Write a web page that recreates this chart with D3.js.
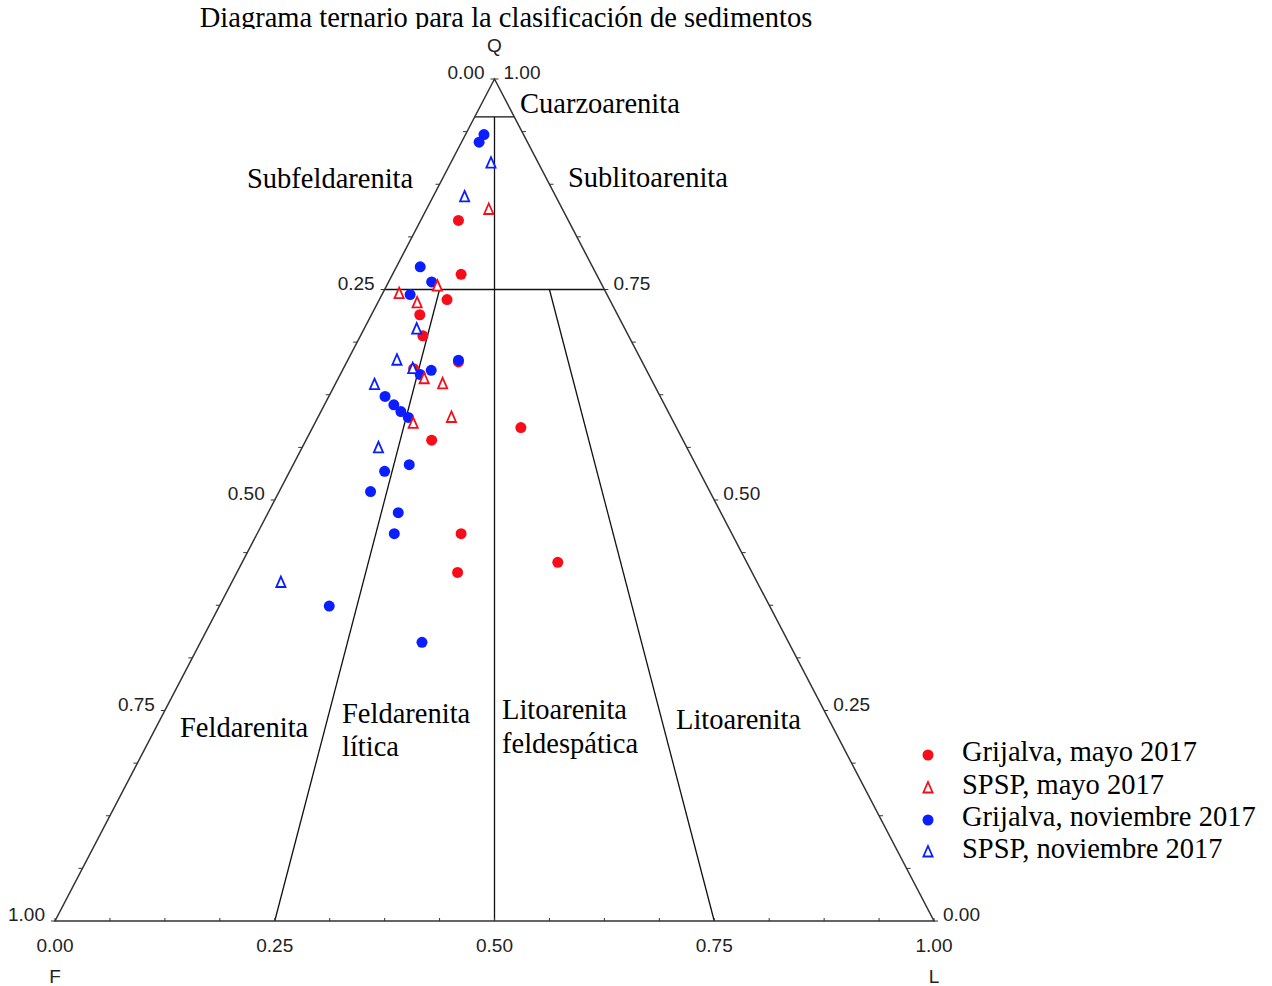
<!DOCTYPE html>
<html lang='es'>
    <head>
        <meta charset="utf-8">
        <script src="https://d3js.org/d3.v7.min.js"></script>
    </head>
    <style>
        body{
            margin:0px;
            padding:0px;
            background-color:white;
        }
        svg{
            display:block;
        }
        .serif{
            font-family:"Liberation Serif","Times New Roman",serif;
            font-size:28.5px;
            fill:black;
        }
        .sans{
            font-family:"Liberation Sans",Arial,sans-serif;
            font-size:19px;
            fill:#222;
        }
    </style>
    <body>
        <svg id="chart" width="1272" height="986"></svg>
        <script>
            // points as [Q, F, L]
            const grijalvaMayo=[
                [0.832,0.125,0.043],[0.768,0.154,0.078],[0.738,0.185,0.077],[0.720,0.225,0.055],
                [0.695,0.234,0.071],[0.664,0.209,0.127],[0.656,0.264,0.080],[0.586,0.177,0.237],
                [0.571,0.286,0.143],[0.460,0.308,0.232],[0.414,0.335,0.251],[0.426,0.215,0.359]
            ];
            const spspMayo=[
                [0.845,0.084,0.071],[0.754,0.188,0.058],[0.745,0.236,0.019],[0.734,0.221,0.045],
                [0.644,0.258,0.098],[0.638,0.240,0.122],[0.598,0.250,0.152],[0.591,0.297,0.112]
            ];
            const grijalvaNov=[
                [0.934,0.045,0.021],[0.925,0.055,0.020],[0.777,0.196,0.027],[0.759,0.192,0.049],
                [0.744,0.224,0.032],[0.666,0.208,0.126],[0.654,0.245,0.101],[0.649,0.260,0.091],
                [0.623,0.313,0.064],[0.613,0.308,0.079],[0.605,0.304,0.091],[0.598,0.299,0.103],
                [0.542,0.326,0.132],[0.534,0.358,0.108],[0.510,0.386,0.104],[0.485,0.367,0.148],
                [0.460,0.384,0.156],[0.374,0.501,0.125],[0.331,0.417,0.252]
            ];
            const spspNov=[
                [0.900,0.054,0.046],[0.860,0.104,0.036],[0.703,0.237,0.060],[0.666,0.278,0.056],
                [0.656,0.265,0.079],[0.637,0.318,0.045],[0.562,0.351,0.087],[0.402,0.542,0.056]
            ];
            const tickValues=[0,0.25,0.5,0.75,1];
            const legendLabels=['Grijalva, mayo 2017','SPSP, mayo 2017','Grijalva, noviembre 2017','SPSP, noviembre 2017'];

            const red='#f70d1a', blue='#0a1eff';
            const svg=d3.select('#chart');
            const x=d3.scaleLinear().domain([0,1]).range([55,934]);
            const y=d3.scaleLinear().domain([0,1]).range([921,79]);
            function pt(q,f,l){ return [x(l+q/2), y(q)]; }
            const line=d3.line();
            const fmt=d3.format('.2f');

            // title (clipped at bottom like the original)
            svg.append('clipPath').attr('id','titleclip')
               .append('rect').attr('x',0).attr('y',0).attr('width',1272).attr('height',29);
            svg.append('text').attr('class','serif')
               .attr('clip-path','url(#titleclip)')
               .attr('x',506).attr('y',27).attr('text-anchor','middle')
               .text('Diagrama ternario para la clasificación de sedimentos');

            // classification lines
            const qz=0.955;
            const fields=[
                [pt(qz,1-qz,0),pt(qz,0,1-qz)],
                [pt(0.75,0.25,0),pt(0.75,0,0.25)],
                [pt(qz,(1-qz)/2,(1-qz)/2),pt(0,0.5,0.5)],
                [pt(0.75,0.1875,0.0625),pt(0,0.75,0.25)],
                [pt(0.75,0.0625,0.1875),pt(0,0.25,0.75)]
            ];
            svg.selectAll('.field').data(fields).enter().append('path')
               .attr('class','field')
               .attr('d',d=>line(d))
               .attr('fill','none').attr('stroke','#111').attr('stroke-width',1.3);

            // outer triangle
            svg.append('path')
               .attr('d',line([pt(1,0,0),pt(0,1,0),pt(0,0,1)])+'Z')
               .attr('fill','none').attr('stroke','#333').attr('stroke-width',1.5);

            // minor ticks
            const minor=d3.range(0,17).map(i=>i/16);
            minor.forEach(t=>{
                const b=pt(0,1-t,t);
                svg.append('line').attr('x1',b[0]).attr('x2',b[0]).attr('y1',b[1]).attr('y2',b[1]-3)
                   .attr('stroke','#333').attr('stroke-width',1);
                const lf=pt(1-t,t,0);
                svg.append('line').attr('x1',lf[0]).attr('x2',lf[0]-4).attr('y1',lf[1]).attr('y2',lf[1])
                   .attr('stroke','#333').attr('stroke-width',1);
                const rt=pt(t,0,1-t);
                svg.append('line').attr('x1',rt[0]).attr('x2',rt[0]+4).attr('y1',rt[1]).attr('y2',rt[1])
                   .attr('stroke','#333').attr('stroke-width',1);
            });

            // tick labels
            tickValues.forEach(t=>{
                const lf=pt(1-t,t,0);
                svg.append('text').attr('class','sans').attr('text-anchor','end')
                   .attr('x',lf[0]-10).attr('y',lf[1]).text(fmt(t));
                const rt=pt(t,0,1-t);
                svg.append('text').attr('class','sans').attr('text-anchor','start')
                   .attr('x',rt[0]+9).attr('y',rt[1]).text(fmt(t));
                const b=pt(0,1-t,t);
                svg.append('text').attr('class','sans').attr('text-anchor','middle')
                   .attr('x',b[0]).attr('y',b[1]+31).text(fmt(t));
            });
            const qv=pt(1,0,0), fv=pt(0,1,0), lv=pt(0,0,1);
            svg.append('text').attr('class','sans').attr('text-anchor','middle')
               .attr('x',qv[0]).attr('y',qv[1]-27).text('Q');
            svg.append('text').attr('class','sans').attr('text-anchor','middle')
               .attr('x',fv[0]).attr('y',fv[1]+62).text('F');
            svg.append('text').attr('class','sans').attr('text-anchor','middle')
               .attr('x',lv[0]).attr('y',lv[1]+62).text('L');

            // field names
            const names=[
                ['Cuarzoarenita',520,113],['Subfeldarenita',247,188],['Sublitoarenita',568,187],
                ['Feldarenita',180,737],['Feldarenita',342,723],['lítica',342,756],
                ['Litoarenita',502,719],['feldespática',502,753],['Litoarenita',676,729]
            ];
            svg.selectAll('.fname').data(names).enter().append('text')
               .attr('class','serif fname')
               .attr('x',d=>d[0+1]).attr('y',d=>d[2]).text(d=>d[0]);

            // markers
            const tri='M0,-6L4.6,4.5L-4.6,4.5Z';
            function circles(data,color){
                svg.append('g').selectAll('circle').data(data).enter().append('circle')
                   .attr('cx',d=>pt(d[0],d[1],d[2])[0]).attr('cy',d=>pt(d[0],d[1],d[2])[1])
                   .attr('r',5.5).attr('fill',color);
            }
            function triangles(data,color){
                svg.append('g').selectAll('path').data(data).enter().append('path')
                   .attr('transform',d=>{const p=pt(d[0],d[1],d[2]);return 'translate('+p[0]+','+p[1]+')';})
                   .attr('d',tri).attr('fill','white').attr('stroke',color).attr('stroke-width',1.8);
            }
            circles(grijalvaMayo,red);
            circles(grijalvaNov,blue);
            triangles(spspMayo,red);
            triangles(spspNov,blue);

            // legend
            const legendY=[755,788,820,852];
            const legendKind=['c','t','c','t'];
            const legendColor=[red,red,blue,blue];
            legendLabels.forEach((lab,i)=>{
                if(legendKind[i]==='c'){
                    svg.append('circle').attr('cx',928).attr('cy',legendY[i]).attr('r',5.5).attr('fill',legendColor[i]);
                }else{
                    svg.append('path').attr('transform','translate(928,'+legendY[i]+')')
                       .attr('d',tri).attr('fill','white').attr('stroke',legendColor[i]).attr('stroke-width',1.8);
                }
                svg.append('text').attr('class','serif').attr('x',962).attr('y',legendY[i]+6).text(lab);
            });
        </script>
    </body>
</html>
